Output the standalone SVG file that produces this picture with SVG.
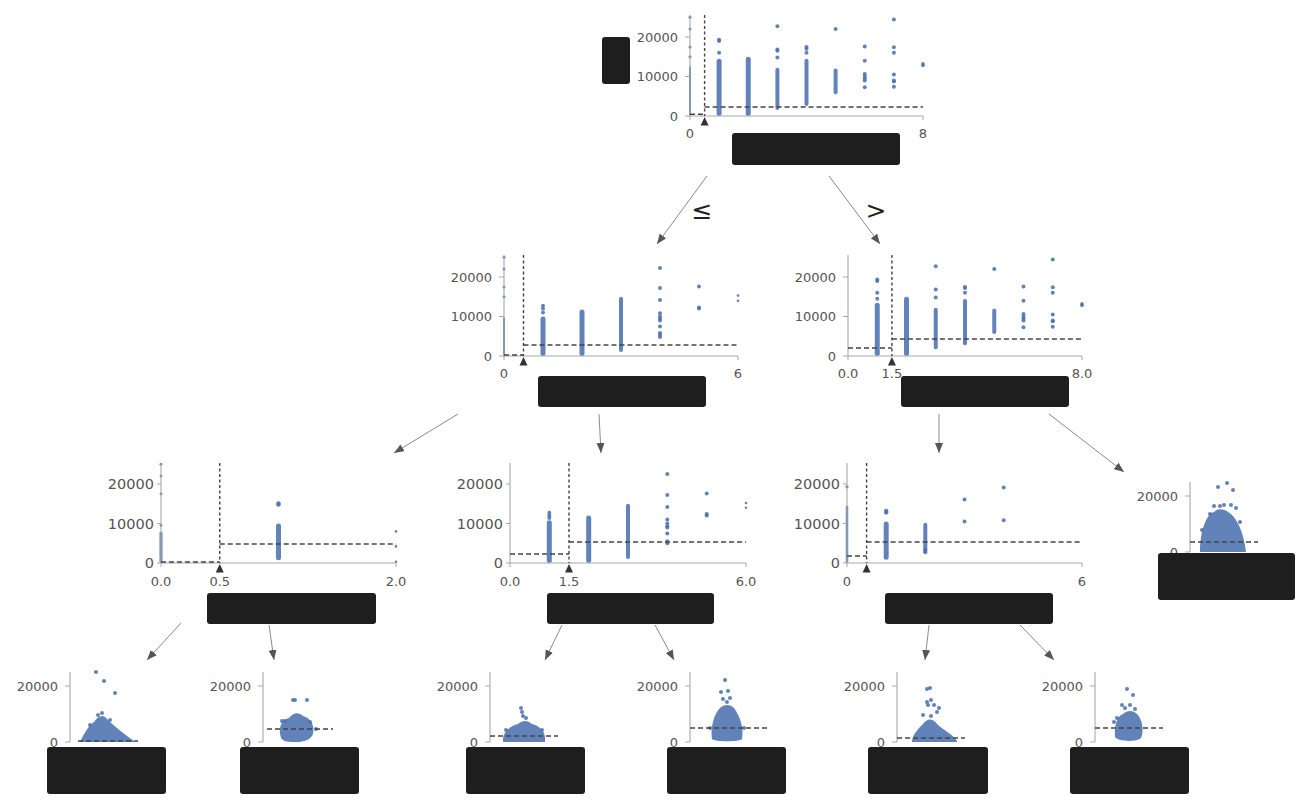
<svg xmlns="http://www.w3.org/2000/svg" width="1300" height="800" viewBox="0 0 1300 800">
<style>
.ax{stroke:#a8a8a8;stroke-width:1.1;fill:none}
.tk{stroke:#a8a8a8;stroke-width:1;fill:none}
.yl{font-family:"DejaVu Sans",sans-serif;font-size:13px;fill:#555;text-anchor:end;dominant-baseline:central}
.yl2{font-family:"DejaVu Sans",sans-serif;font-size:14.5px;fill:#555;text-anchor:end;dominant-baseline:central}
.xl{font-family:"DejaVu Sans",sans-serif;font-size:13px;fill:#555;text-anchor:middle;dominant-baseline:central}
.mean{stroke:#444;stroke-width:1.5;stroke-dasharray:5,3;fill:none}
.split{stroke:#444;stroke-width:1.4;stroke-dasharray:3,2.5;fill:none}
.tri{fill:#333}
.pts{fill:#4c72b0;fill-opacity:0.88}
.box{fill:#1e1e1e}
.conn{stroke:#8a8a8a;stroke-width:1;fill:none}
.op{font-family:"DejaVu Sans",sans-serif;font-size:25px;fill:#222;text-anchor:middle;dominant-baseline:central}
</style>
<defs>
<marker id="ah" markerUnits="userSpaceOnUse" markerWidth="10" markerHeight="8" refX="10" refY="4" orient="auto">
<path d="M0,0 L10,4 L0,8 Z" fill="#555"/>
</marker>
</defs>

<!-- Root node -->
<g id="node0" transform="translate(690,116)">
<g class="pts">
<rect x="-1" y="-49.4" width="2" height="49.4" rx="1"/>
<circle cx="0" cy="-59.25" r="1.5"/><circle cx="0" cy="-69.1" r="1.5"/><circle cx="0" cy="-86.9" r="1.5"/><circle cx="0" cy="-98.75" r="1.5"/>
<rect x="26.6" y="-57.3" width="5" height="57.3" rx="2.5"/>
<circle cx="29.1" cy="-63.2" r="2"/><circle cx="29.1" cy="-75" r="2"/><circle cx="29.1" cy="-76.2" r="2"/>
<rect x="55.75" y="-59.25" width="5" height="59.25" rx="2.5"/>
<rect x="85.4" y="-48.2" width="4" height="42.3" rx="2"/>
<circle cx="87.4" cy="-58.5" r="2"/><circle cx="87.4" cy="-65.2" r="2"/><circle cx="87.4" cy="-66.4" r="2"/><circle cx="87.4" cy="-89.7" r="2"/>
<rect x="114.5" y="-57.3" width="4" height="47.4" rx="2"/>
<circle cx="116.5" cy="-63.2" r="2"/><circle cx="116.5" cy="-67.15" r="2"/><circle cx="116.5" cy="-69.1" r="2"/>
<rect x="143.6" y="-47.4" width="4" height="25.7" rx="2"/>
<circle cx="145.6" cy="-86.9" r="2"/>
<circle cx="174.75" cy="-28.8" r="2"/><circle cx="174.75" cy="-35.55" r="2"/><circle cx="174.75" cy="-37.5" r="2"/><circle cx="174.75" cy="-39.5" r="2"/><circle cx="174.75" cy="-41.9" r="2"/><circle cx="174.75" cy="-55.3" r="2"/><circle cx="174.75" cy="-69.5" r="2"/>
<circle cx="203.9" cy="-29.2" r="2"/><circle cx="203.9" cy="-34.4" r="2"/><circle cx="203.9" cy="-35.55" r="2"/><circle cx="203.9" cy="-41.5" r="2"/><circle cx="203.9" cy="-63.2" r="2"/><circle cx="203.9" cy="-68.7" r="2"/><circle cx="203.9" cy="-96.4" r="2"/>
<circle cx="233" cy="-50.6" r="1.8"/><circle cx="233" cy="-52.1" r="1.8"/>
</g>
<path class="ax" d="M0,-101 V0 H233"/>
<path class="tk" d="M-5,-79 H0 M-5,-39.5 H0 M-5,0 H0 M0,0 V4 M233,0 V4"/>
<text class="yl" x="-12" y="-79">20000</text>
<text class="yl" x="-12" y="-39.5">10000</text>
<text class="yl" x="-12" y="0">0</text>
<text class="xl" x="0" y="17">0</text>
<text class="xl" x="233" y="17">8</text>
<path class="split" d="M14.6,-101 V0"/>
<path class="mean" d="M0,-1.7 H14.6 M14.6,-9 H233"/>
<path class="tri" d="M14.6,1 L10.6,9.5 L18.6,9.5 Z"/>
<rect class="box" x="-88" y="-79" width="28" height="47" rx="3"/>
<rect class="box" x="42" y="17" width="168" height="32" rx="3"/>
</g>

<!-- Node 1 -->
<g id="node1" transform="translate(504,356)">
<g class="pts">
<rect x="-1" y="-38.7" width="2" height="38.7" rx="1"/>
<circle cx="0" cy="-59.25" r="1.5"/><circle cx="0" cy="-69.1" r="1.5"/><circle cx="0" cy="-86.9" r="1.5"/><circle cx="0" cy="-98.75" r="1.5"/>
<rect x="36.5" y="-39.5" width="5" height="39.5" rx="2.5"/>
<circle cx="39" cy="-43.45" r="2"/><circle cx="39" cy="-47.4" r="2"/><circle cx="39" cy="-50.2" r="2"/>
<rect x="75.5" y="-46.6" width="5" height="46.6" rx="2.5"/>
<rect x="115" y="-59.25" width="4" height="55.3" rx="2"/>
<circle cx="156" cy="-19" r="2"/><circle cx="156" cy="-20.9" r="2"/><circle cx="156" cy="-22.9" r="2"/><circle cx="156" cy="-29.6" r="2"/><circle cx="156" cy="-35.55" r="2"/><circle cx="156" cy="-37.5" r="2"/><circle cx="156" cy="-39.5" r="2"/><circle cx="156" cy="-42.7" r="2"/><circle cx="156" cy="-56.1" r="2"/><circle cx="156" cy="-67.9" r="2"/><circle cx="156" cy="-88.1" r="2"/>
<circle cx="195" cy="-47.4" r="2"/><circle cx="195" cy="-48.6" r="2"/><circle cx="195" cy="-69.5" r="2"/>
<circle cx="234" cy="-55.3" r="1.3"/><circle cx="234" cy="-60.4" r="1.3"/>
</g>
<path class="ax" d="M0,-101 V0 H234"/>
<path class="tk" d="M-5,-79 H0 M-5,-39.5 H0 M-5,0 H0 M0,0 V4 M234,0 V4"/>
<text class="yl" x="-12" y="-79">20000</text>
<text class="yl" x="-12" y="-39.5">10000</text>
<text class="yl" x="-12" y="0">0</text>
<text class="xl" x="0" y="17">0</text>
<text class="xl" x="234" y="17">6</text>
<path class="split" d="M19.5,-101 V0"/>
<path class="mean" d="M0,-1 H19.5 M19.5,-11 H234"/>
<path class="tri" d="M19.5,1 L15.5,9.5 L23.5,9.5 Z"/>
<rect class="box" x="34" y="20" width="168" height="31" rx="3"/>
</g>

<!-- Node 2 -->
<g id="node2" transform="translate(848,356)">
<g class="pts">
<rect x="26.75" y="-53.3" width="5" height="53.3" rx="2.5"/>
<circle cx="29.25" cy="-57.3" r="2"/><circle cx="29.25" cy="-63.2" r="2"/><circle cx="29.25" cy="-75" r="2"/><circle cx="29.25" cy="-76.6" r="2"/>
<rect x="56" y="-59.25" width="5" height="59.25" rx="2.5"/>
<rect x="85.75" y="-48.2" width="4" height="41.5" rx="2"/>
<circle cx="87.75" cy="-58.5" r="2"/><circle cx="87.75" cy="-66.4" r="2"/><circle cx="87.75" cy="-89.7" r="2"/>
<rect x="115" y="-56.9" width="4" height="46.2" rx="2"/>
<circle cx="117" cy="-63.2" r="2"/><circle cx="117" cy="-67.9" r="2"/><circle cx="117" cy="-69.1" r="2"/>
<rect x="144.25" y="-47.4" width="4" height="25.3" rx="2"/>
<circle cx="146.25" cy="-86.9" r="2"/>
<circle cx="175.5" cy="-28.8" r="2"/><circle cx="175.5" cy="-35.55" r="2"/><circle cx="175.5" cy="-37.5" r="2"/><circle cx="175.5" cy="-39.5" r="2"/><circle cx="175.5" cy="-41.9" r="2"/><circle cx="175.5" cy="-55.3" r="2"/><circle cx="175.5" cy="-69.5" r="2"/>
<circle cx="204.75" cy="-29.2" r="2"/><circle cx="204.75" cy="-34.8" r="2"/><circle cx="204.75" cy="-35.55" r="2"/><circle cx="204.75" cy="-41.5" r="2"/><circle cx="204.75" cy="-63.2" r="2"/><circle cx="204.75" cy="-68.7" r="2"/><circle cx="204.75" cy="-96.4" r="2"/>
<circle cx="234" cy="-50.6" r="1.8"/><circle cx="234" cy="-52.1" r="1.8"/>
</g>
<path class="ax" d="M0,-101 V0 H234"/>
<path class="tk" d="M-5,-79 H0 M-5,-39.5 H0 M-5,0 H0 M0,0 V4 M234,0 V4"/>
<text class="yl" x="-12" y="-79">20000</text>
<text class="yl" x="-12" y="-39.5">10000</text>
<text class="yl" x="-12" y="0">0</text>
<text class="xl" x="0" y="17">0.0</text>
<text class="xl" x="43.9" y="17">1.5</text>
<text class="xl" x="234" y="17">8.0</text>
<path class="split" d="M43.9,-101 V0"/>
<path class="mean" d="M0,-8 H43.9 M43.9,-17 H234"/>
<path class="tri" d="M43.9,1 L39.9,9.5 L47.9,9.5 Z"/>
<rect class="box" x="53" y="20" width="168" height="31" rx="3"/>
</g>

<!-- Node 3 -->
<g id="node3" transform="translate(161,563)">
<g class="pts">
<rect x="-1.5" y="-31.6" width="3" height="31.6" rx="1.5"/>
<circle cx="0" cy="-37.5" r="1.4"/><circle cx="0" cy="-69.1" r="1.4"/><circle cx="0" cy="-86.9" r="1.4"/><circle cx="0" cy="-98.75" r="1.4"/>
<rect x="115" y="-39.5" width="5" height="36.7" rx="2.5"/>
<circle cx="117.5" cy="-58.5" r="2.2"/><circle cx="117.5" cy="-59.5" r="2.2"/>
<circle cx="235" cy="-1.2" r="1.3"/><circle cx="235" cy="-16.6" r="1.3"/><circle cx="235" cy="-31.6" r="1.3"/>
</g>
<path class="ax" d="M0,-100 V0 H235"/>
<path class="tk" d="M-4,-79 H0 M-4,-39.5 H0 M-4,0 H0 M0,0 V4 M235,0 V4"/>
<text class="yl2" x="-7" y="-79">20000</text>
<text class="yl2" x="-7" y="-39.5">10000</text>
<text class="yl2" x="-7" y="0">0</text>
<text class="xl" x="0" y="18">0.0</text>
<text class="xl" x="58.75" y="18">0.5</text>
<text class="xl" x="235" y="18">2.0</text>
<path class="split" d="M58.75,-100 V0"/>
<path class="mean" d="M0,-1 H58.75 M58.75,-19 H235"/>
<path class="tri" d="M58.75,1 L54.75,9.5 L62.75,9.5 Z"/>
<rect class="box" x="46" y="30" width="169" height="31" rx="3"/>
</g>

<!-- Node 4 -->
<g id="node4" transform="translate(510,563)">
<g class="pts">
<rect x="36.8" y="-42.7" width="5" height="42.7" rx="2.5"/>
<circle cx="39.3" cy="-45" r="2"/><circle cx="39.3" cy="-47.4" r="2"/><circle cx="39.3" cy="-50.2" r="2"/>
<rect x="76.2" y="-47.4" width="5" height="47.4" rx="2.5"/>
<rect x="116" y="-59.25" width="4" height="55.3" rx="2"/>
<circle cx="157.3" cy="-19.75" r="2"/><circle cx="157.3" cy="-21.7" r="2"/><circle cx="157.3" cy="-29.6" r="2"/><circle cx="157.3" cy="-35.55" r="2"/><circle cx="157.3" cy="-36.7" r="2"/><circle cx="157.3" cy="-39.5" r="2"/><circle cx="157.3" cy="-43.45" r="2"/><circle cx="157.3" cy="-56.1" r="2"/><circle cx="157.3" cy="-67.9" r="2"/><circle cx="157.3" cy="-88.9" r="2"/>
<circle cx="196.7" cy="-47.4" r="2"/><circle cx="196.7" cy="-49" r="2"/><circle cx="196.7" cy="-69.5" r="2"/>
<circle cx="236" cy="-55.3" r="1.3"/><circle cx="236" cy="-60" r="1.3"/>
</g>
<path class="ax" d="M0,-100 V0 H236"/>
<path class="tk" d="M-4,-79 H0 M-4,-39.5 H0 M-4,0 H0 M0,0 V4 M236,0 V4"/>
<text class="yl2" x="-7" y="-79">20000</text>
<text class="yl2" x="-7" y="-39.5">10000</text>
<text class="yl2" x="-7" y="0">0</text>
<text class="xl" x="0" y="18">0.0</text>
<text class="xl" x="59" y="18">1.5</text>
<text class="xl" x="236" y="18">6.0</text>
<path class="split" d="M59,-100 V0"/>
<path class="mean" d="M0,-9 H59 M59,-21 H236"/>
<path class="tri" d="M59,1 L55,9.5 L63,9.5 Z"/>
<rect class="box" x="37" y="30" width="167" height="31" rx="3"/>
</g>

<!-- Node 5 -->
<g id="node5" transform="translate(847,563)">
<g class="pts">
<rect x="-1.25" y="-57.3" width="2.5" height="57.3" rx="1.25"/>
<circle cx="0" cy="-76.2" r="1.6"/>
<rect x="36.7" y="-41.5" width="5" height="38.3" rx="2.5"/>
<circle cx="39.2" cy="-50.6" r="2.2"/><circle cx="39.2" cy="-52.1" r="2.2"/>
<rect x="76.3" y="-40.3" width="4" height="30.4" rx="2"/>
<circle cx="78.3" cy="-10.7" r="2"/><circle cx="78.3" cy="-13" r="2"/>
<circle cx="117.5" cy="-41.5" r="2"/><circle cx="117.5" cy="-63.6" r="2"/>
<circle cx="156.7" cy="-42.7" r="2"/><circle cx="156.7" cy="-75.4" r="2"/>
</g>
<path class="ax" d="M0,-100 V0 H235"/>
<path class="tk" d="M-4,-79 H0 M-4,-39.5 H0 M-4,0 H0 M0,0 V4 M235,0 V4"/>
<text class="yl2" x="-7" y="-79">20000</text>
<text class="yl2" x="-7" y="-39.5">10000</text>
<text class="yl2" x="-7" y="0">0</text>
<text class="xl" x="0" y="18">0</text>
<text class="xl" x="235" y="18">6</text>
<path class="split" d="M19.6,-100 V0"/>
<path class="mean" d="M0,-7 H19.6 M19.6,-21 H235"/>
<path class="tri" d="M19.6,1 L15.6,9.5 L23.6,9.5 Z"/>
<rect class="box" x="38" y="30" width="168" height="31" rx="3"/>
</g>

<!-- Leaf 6 -->
<g id="leaf6" transform="translate(1190,552)">
<g class="pts">
<path d="M10,0 C10,-20 16,-38 24,-40 C28,-44 34,-43 38,-40 C46,-36 54,-20 56,0 Z"/>
<circle cx="37" cy="-69" r="2"/><circle cx="28" cy="-65" r="2"/><circle cx="43" cy="-62" r="2"/>
<circle cx="24" cy="-46" r="2"/><circle cx="30" cy="-46" r="2"/><circle cx="34" cy="-47" r="2"/><circle cx="41" cy="-47" r="2"/><circle cx="46" cy="-44" r="2"/><circle cx="20" cy="-38" r="2"/><circle cx="50" cy="-30" r="2"/><circle cx="12" cy="-22" r="2"/>
</g>
<path class="ax" d="M0,-70 V0"/>
<path class="tk" d="M-5,-56 H0 M-5,0 H0"/>
<text class="yl" x="-12" y="-56">20000</text>
<text class="yl" x="-12" y="0">0</text>
<path class="mean" d="M0,-10 H68"/>
<rect class="box" x="-32" y="1" width="137" height="47" rx="3"/>
</g>

<!-- Leaf A -->
<g id="leaf7" transform="translate(70,742)">
<g class="pts">
<path d="M10,0 C14,-8 18,-16 24,-20 C28,-27 34,-28 37,-23 C43,-17 54,-8 64,-1 L64,0 Z"/>
<circle cx="26" cy="-70" r="2"/><circle cx="34" cy="-61" r="2"/><circle cx="45" cy="-49" r="2"/>
<circle cx="32" cy="-29" r="2"/><circle cx="28" cy="-27" r="2"/><circle cx="40" cy="-22" r="2"/><circle cx="20" cy="-17" r="2"/>
</g>
<path class="ax" d="M0,-70 V0"/>
<path class="tk" d="M-5,-56 H0 M-5,0 H0"/>
<text class="yl" x="-12" y="-56">20000</text>
<text class="yl" x="-12" y="0">0</text>
<path class="mean" d="M8,-1 H68"/>
<rect class="box" x="-23" y="5" width="119" height="47" rx="3"/>
</g>

<!-- Leaf B -->
<g id="leaf8" transform="translate(263,742)">
<g class="pts">
<path d="M18,-4 C15,-14 18,-22 26,-24 C30,-30 36,-30 40,-26 C48,-24 52,-16 50,-8 C48,-2 40,0 34,0 C26,0 20,0 18,-4 Z"/>
<circle cx="30" cy="-42" r="2"/><circle cx="32" cy="-42" r="2"/><circle cx="44" cy="-42" r="2"/>
<circle cx="19" cy="-21" r="2"/><circle cx="22" cy="-21" r="2"/><circle cx="47" cy="-20" r="2"/><circle cx="53" cy="-13" r="2"/>
</g>
<path class="ax" d="M0,-70 V0"/>
<path class="tk" d="M-5,-56 H0 M-5,0 H0"/>
<text class="yl" x="-12" y="-56">20000</text>
<text class="yl" x="-12" y="0">0</text>
<path class="mean" d="M4,-13 H70"/>
<rect class="box" x="-23" y="5" width="119" height="47" rx="3"/>
</g>

<!-- Leaf C -->
<g id="leaf9" transform="translate(490,742)">
<g class="pts">
<path d="M13,-2 C13,-10 20,-16 28,-18 C32,-22 38,-22 42,-18 C50,-16 56,-10 55,-2 L55,0 L13,0 Z"/>
<circle cx="33" cy="-26" r="2"/><circle cx="32" cy="-30" r="2"/><circle cx="31" cy="-34" r="2"/><circle cx="36" cy="-24" r="2"/>
<circle cx="16" cy="-12" r="2"/><circle cx="52" cy="-12" r="2"/>
</g>
<path class="ax" d="M0,-70 V0"/>
<path class="tk" d="M-5,-56 H0 M-5,0 H0"/>
<text class="yl" x="-12" y="-56">20000</text>
<text class="yl" x="-12" y="0">0</text>
<path class="mean" d="M0,-6 H68"/>
<rect class="box" x="-24" y="5" width="119" height="47" rx="3"/>
</g>

<!-- Leaf D -->
<g id="leaf10" transform="translate(690,742)">
<g class="pts">
<path d="M22,-3 C20,-14 24,-28 30,-34 C34,-38 40,-38 44,-34 C50,-26 54,-14 52,-3 C50,0 24,0 22,-3 Z"/>
<circle cx="35" cy="-62" r="2"/><circle cx="31" cy="-50" r="2"/><circle cx="38" cy="-51" r="2"/><circle cx="33" cy="-43" r="2"/><circle cx="40" cy="-44" r="2"/><circle cx="37" cy="-40" r="2"/>
<circle cx="20" cy="-14" r="2"/><circle cx="54" cy="-14" r="2"/>
</g>
<path class="ax" d="M0,-70 V0"/>
<path class="tk" d="M-5,-56 H0 M-5,0 H0"/>
<text class="yl" x="-12" y="-56">20000</text>
<text class="yl" x="-12" y="0">0</text>
<path class="mean" d="M0,-14 H78"/>
<rect class="box" x="-23" y="5" width="119" height="47" rx="3"/>
</g>

<!-- Leaf E -->
<g id="leaf11" transform="translate(897,742)">
<g class="pts">
<path d="M15,-1 C16,-8 22,-14 26,-18 C30,-24 36,-24 40,-18 C46,-12 56,-8 60,-1 L60,0 L15,0 Z"/>
<circle cx="30" cy="-53" r="2"/><circle cx="33" cy="-54" r="2"/><circle cx="30" cy="-40" r="2"/><circle cx="34" cy="-42" r="2"/><circle cx="31" cy="-37" r="2"/><circle cx="37" cy="-37" r="2"/><circle cx="42" cy="-34" r="2"/><circle cx="40" cy="-30" r="2"/><circle cx="26" cy="-27" r="2"/><circle cx="34" cy="-26" r="2"/>
</g>
<path class="ax" d="M0,-70 V0"/>
<path class="tk" d="M-5,-56 H0 M-5,0 H0"/>
<text class="yl" x="-12" y="-56">20000</text>
<text class="yl" x="-12" y="0">0</text>
<path class="mean" d="M0,-4 H68"/>
<rect class="box" x="-29" y="5" width="120" height="47" rx="3"/>
</g>

<!-- Leaf F -->
<g id="leaf12" transform="translate(1095,742)">
<g class="pts">
<path d="M20,-5 C19,-16 22,-26 28,-28 C32,-32 38,-32 42,-28 C48,-22 49,-10 46,-4 C42,0 24,0 20,-5 Z"/>
<circle cx="32" cy="-53" r="2"/><circle cx="38" cy="-47" r="2"/><circle cx="27" cy="-37" r="2"/><circle cx="35" cy="-37" r="2"/><circle cx="30" cy="-34" r="2"/><circle cx="22" cy="-24" r="2"/><circle cx="19" cy="-20" r="2"/><circle cx="40" cy="-33" r="2"/>
</g>
<path class="ax" d="M0,-70 V0"/>
<path class="tk" d="M-5,-56 H0 M-5,0 H0"/>
<text class="yl" x="-12" y="-56">20000</text>
<text class="yl" x="-12" y="0">0</text>
<path class="mean" d="M0,-14 H68"/>
<rect class="box" x="-25" y="5" width="119" height="47" rx="3"/>
</g>

<!-- Connectors -->
<g id="connectors">
<line class="conn" x1="707" y1="176" x2="657" y2="244" marker-end="url(#ah)"/>
<line class="conn" x1="829" y1="176" x2="880" y2="244" marker-end="url(#ah)"/>
<line class="conn" x1="458" y1="414" x2="394" y2="453" marker-end="url(#ah)"/>
<line class="conn" x1="599" y1="414" x2="601" y2="453" marker-end="url(#ah)"/>
<line class="conn" x1="939" y1="414" x2="939" y2="453" marker-end="url(#ah)"/>
<line class="conn" x1="1049" y1="414" x2="1124" y2="472" marker-end="url(#ah)"/>
<line class="conn" x1="181" y1="623" x2="147" y2="660" marker-end="url(#ah)"/>
<line class="conn" x1="269" y1="625" x2="274" y2="660" marker-end="url(#ah)"/>
<line class="conn" x1="562" y1="625" x2="545" y2="660" marker-end="url(#ah)"/>
<line class="conn" x1="655" y1="625" x2="674" y2="660" marker-end="url(#ah)"/>
<line class="conn" x1="929" y1="625" x2="925" y2="660" marker-end="url(#ah)"/>
<line class="conn" x1="1020" y1="625" x2="1054" y2="660" marker-end="url(#ah)"/>
<text class="op" x="702" y="210">≤</text>
<text class="op" x="876" y="210">&gt;</text>
</g>
</svg>
